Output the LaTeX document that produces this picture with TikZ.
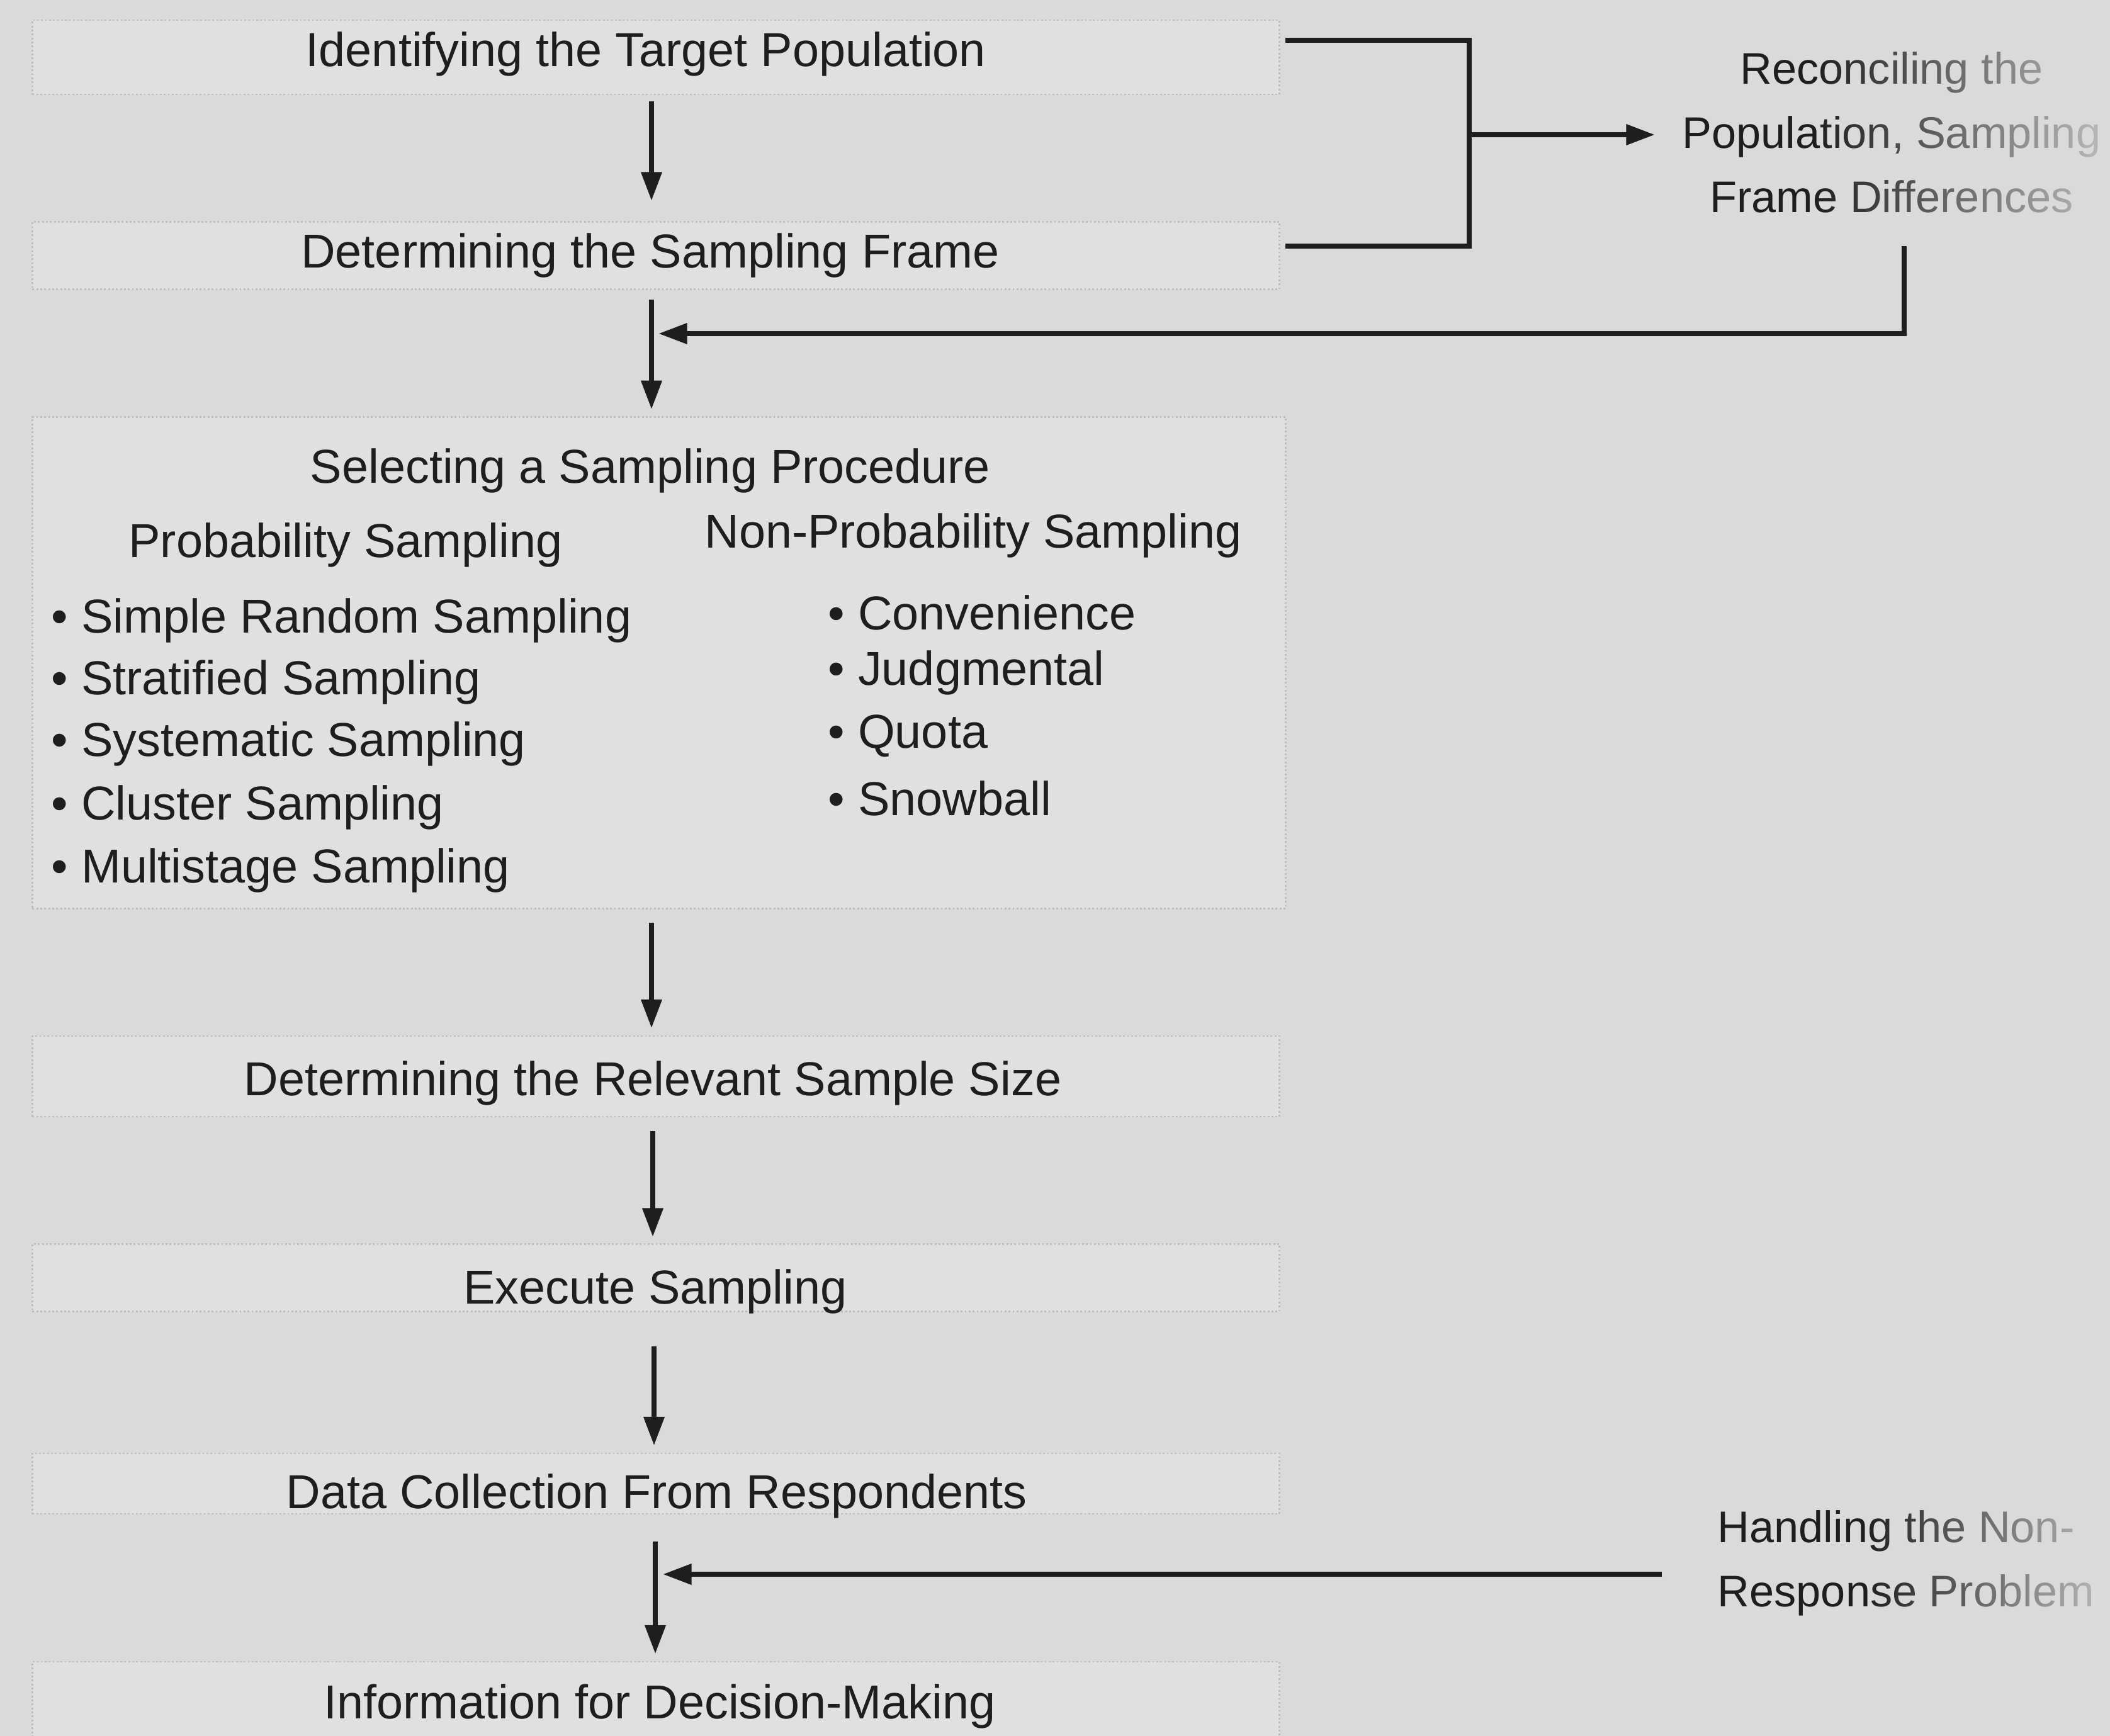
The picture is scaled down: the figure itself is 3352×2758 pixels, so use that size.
\documentclass[tikz,border=0pt]{standalone}
\usepackage{fontspec}
\setmainfont{Liberation Sans}
\usetikzlibrary{arrows.meta,calc,fadings}
\definecolor{paper}{HTML}{DADADA}
\definecolor{band}{HTML}{E0E0E0}
\definecolor{bandedge}{HTML}{BEBEBE}
\definecolor{ink}{HTML}{1E1E1E}
\tikzfading[name=fadeout right, left color=transparent!100, right color=transparent!15]

\begin{document}
\begin{tikzpicture}[x=0.01cm,y=-0.01cm,
  lbl/.style={font=\fontsize{21.5}{29}\selectfont, text=ink, inner sep=0pt},
  note/.style={font=\fontsize{20}{29}\selectfont, text=ink, inner sep=0pt},
  band/.style={fill=band, draw=bandedge, line width=0.8pt, densely dotted, inner sep=0pt},
  flow/.style={draw=ink, line width=2.3pt, -{Triangle[length=13pt,width=9pt]}},
  wire/.style={draw=ink, line width=2.3pt, line join=miter},
]
\useasboundingbox (0,0) rectangle (3352,2758);
\clip (0,0) rectangle (3352,2758);
\fill[paper] (0,0) rectangle (3352,2758);

% shaded bands behind the steps
\node[band, minimum width=19.8cm, minimum height=1.18cm] (b1) at (1042,91) {};
\node[band, minimum width=19.8cm, minimum height=1.07cm] (b2) at (1042,406) {};
\node[band, minimum width=19.9cm, minimum height=7.8cm] (b3) at (1047,1053) {};
\node[band, minimum width=19.8cm, minimum height=1.28cm] (b4) at (1042,1710) {};
\node[band, minimum width=19.8cm, minimum height=1.07cm] (b5) at (1042,2030) {};
\node[band, minimum width=19.8cm, minimum height=0.96cm] (b6) at (1042,2357) {};
\node[band, minimum width=19.8cm, minimum height=1.30cm] (b7) at (1042,2705) {};

% step labels
\node[lbl] (t1) at (1026,86) {Identifying the Target Population};
\node[lbl] (t2) at (1033,406) {Determining the Sampling Frame};
\node[lbl] (t3) at (1033,748) {Selecting a Sampling Procedure};
\node[lbl] (pr) at (549,866) {Probability Sampling};
\node[lbl] (np) at (1546,851) {Non-Probability Sampling};

\node[lbl, anchor=west] (p1) at (81,986) {•\ Simple Random Sampling};
\node[lbl, anchor=west] (p2) at (81,1084) {•\ Stratified Sampling};
\node[lbl, anchor=west] (p3) at (81,1182) {•\ Systematic Sampling};
\node[lbl, anchor=west] (p4) at (81,1283) {•\ Cluster Sampling};
\node[lbl, anchor=west] (p5) at (81,1383) {•\ Multistage Sampling};

\node[lbl, anchor=west] (n1) at (1315,973) {•\ Convenience};
\node[lbl, anchor=west] (n2) at (1315,1069) {•\ Judgmental};
\node[lbl, anchor=west] (n3) at (1315,1169) {•\ Quota};
\node[lbl, anchor=west] (n4) at (1315,1268) {•\ Snowball};

\node[lbl] (t4) at (1037,1721) {Determining the Relevant Sample Size};
\node[lbl] (t5) at (1041,2052) {Execute Sampling};
\node[lbl] (t6) at (1043,2377) {Data Collection From Respondents};
\node[lbl] (t7) at (1048,2711) {Information for Decision-Making};

% side notes
\node[note, align=center] (rec) at (3005,210) {Reconciling the\\Population, Sampling\\Frame Differences};
\node[note, anchor=west, align=left] (hand) at (2728,2483) {Handling the Non-\\Response Problem};

% main flow
\draw[flow] ($(b1.south)+(-7,10)$) -- ($(b2.north)+(-7,-32)$);
\draw[flow] ($(b2.south)+(-7,15)$) -- ($(b3.north)+(-12,-11)$);
\draw[flow] ($(b3.south)+(-12,21)$) -- ($(b4.north)+(-7,-11)$);
\draw[flow] ($(b4.south)+(-5,22)$) -- ($(b5.north)+(-5,-10)$);
\draw[flow] ($(b5.south)+(-3,54)$) -- ($(b6.north)+(-3,-11)$);
\draw[flow] ($(b6.south)+(-1,43)$) -- ($(b7.north)+(-1,-11)$);

% bracket joining the first two steps
\coordinate (brA) at (2042,64);
\coordinate (brB) at (2042,391);
\coordinate (brJ) at (2334,214);
\draw[wire] (brA) -- (2334,64) -- (2334,391) -- (brB);
\draw[flow, shorten >=0.43cm] (brJ) -- (brJ -| rec.west);

% feedback from the reconciling note
\coordinate (fbA) at (3025,391);
\coordinate (fbTip) at (1046,530);
\draw[flow] (fbA) |- (fbTip);

% non-response input
\coordinate (hs) at (2640,2501);
\coordinate (hsTip) at (1053,2501);
\draw[flow] (hs) -- (hsTip);

% right-hand notes fade into the page edge
\fill[paper, path fading=fadeout right] (2880,20) rectangle (3352,370);
\fill[paper, path fading=fadeout right] (2960,2380) rectangle (3352,2600);
\end{tikzpicture}
\end{document}
